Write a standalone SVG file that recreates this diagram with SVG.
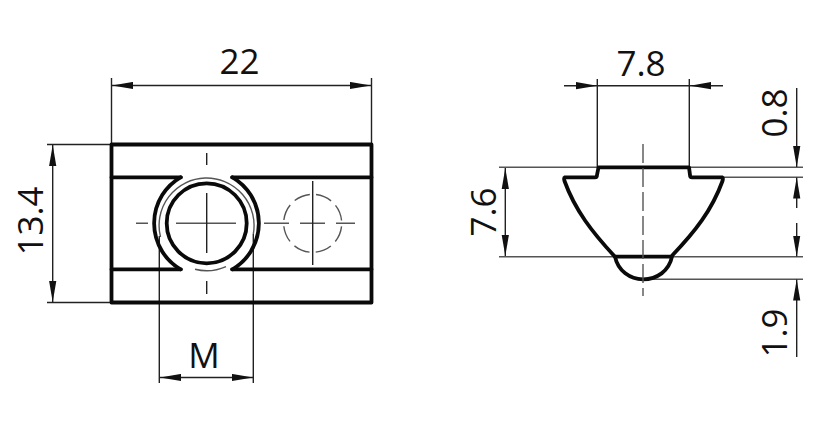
<svg xmlns="http://www.w3.org/2000/svg" width="830" height="434" viewBox="0 0 830 434">
<style>
.t{font-family:"Open Sans","Noto Sans",sans-serif;font-size:35px;fill:#111;text-anchor:middle}
.o{fill:none;stroke:#0a0a0a;stroke-width:3.8;stroke-linejoin:round;stroke-linecap:round}
.d{fill:none;stroke:#222;stroke-width:1.4}
.e{fill:none;stroke:#555;stroke-width:1.6}
.c{fill:none;stroke:#555;stroke-width:1.4}
.k{fill:none;stroke:#222;stroke-width:1.4}
.h{fill:#111}
</style>
<defs>
<marker id="a" markerUnits="userSpaceOnUse" markerWidth="22" markerHeight="8" refX="21" refY="4" orient="auto-start-reverse"><path d="M0 .4L21 4L0 7.6Z" class="h"/></marker>
</defs>
<rect width="830" height="434" fill="#fff"/>
<g id="connectors">
<path class="d" d="M111.5 78V144M371.5 78V144M47 144.5H111M47 302.5H111"/>
<path class="d" d="M112 85.5H371" marker-start="url(#a)" marker-end="url(#a)"/>
<path class="d" d="M52.7 145V302" marker-start="url(#a)" marker-end="url(#a)"/>
<path class="d" d="M159.3 236V383M253.3 234V383"/>
<path class="d" d="M160 377.5H253" marker-start="url(#a)" marker-end="url(#a)"/>
<path class="d" d="M597.3 79V167M689.3 79V167"/>
<path class="d" d="M564 85.7H597" marker-end="url(#a)"/>
<path class="d" d="M723 85.7H690" marker-end="url(#a)"/>
<path class="d" d="M597 85.7H690"/>
<path class="e" d="M499 167.3H803M690 177.3H803M499 256.7H803M643 279.3H803"/>
<path class="d" d="M505.3 168V256" marker-start="url(#a)" marker-end="url(#a)"/>
<path class="d" d="M796.7 88V167" marker-end="url(#a)"/>
<path class="d" d="M796.7 208V177.5" marker-end="url(#a)"/>
<path class="d" d="M796.7 223V256.5" marker-end="url(#a)"/>
<path class="d" d="M796.7 357V279.5" marker-end="url(#a)"/>
</g>
<g id="front-view">
<path class="o" d="M111.5 144.5H371.5V302.5H111.5Z"/>
<path class="o" d="M111.5 177.3H181M232 177.3H371.5M111.5 269.3H181M232 269.3H371.5"/>
<path class="o" d="M180.5 177.3A53.3 53.3 0 0 0 180.5 269.3M232.5 177.3A53.3 53.3 0 0 1 232.5 269.3"/>
<circle class="o" cx="206.7" cy="223.3" r="40"/>
<path class="c" d="M160.5 237A47.5 47.5 0 1 1 253.3 234M226 266.6A47.5 47.5 0 0 1 195 269.3"/>
<path class="c" d="M136 223.3H148M176 223.3H236M264 223.3H289M300 223.3H325M336 223.3H355"/>
<path class="k" d="M206.7 153V165M206.7 193V253M206.7 281V294M312.7 181V265"/>
<circle cx="312.7" cy="223.3" r="29" fill="none" stroke="#555" stroke-width="1.4" stroke-dasharray="16.5 6.28" stroke-dashoffset="-3.14"/>
</g>
<g id="side-view">
<path class="o" d="M598.5 167.3H689L690 175Q690 177.3 692 177.3H722Q723.5 178 722.5 181C712 210 695 232 671 256.7H615C592 232 575 210 564.5 181Q563.5 178 565 177.3H595Q597 177.3 597 175Z"/>
<path class="o" d="M615 256.7C618 271 630 279.3 643 279.3C657 279.3 669 271 672 256.7"/>
<path class="c" stroke-dasharray="19 5" d="M643 144V296"/>
</g>
<g id="labels">
<text class="t" x="239.5" y="74.3">22</text>
<text class="t" x="641" y="76">7.8</text>
<text class="t" x="204" y="367.5">M</text>
<text class="t" transform="translate(43.3 221) rotate(-90)">13.4</text>
<text class="t" transform="translate(496 212) rotate(-90)">7.6</text>
<text class="t" transform="translate(787 113) rotate(-90)">0.8</text>
<text class="t" transform="translate(787 333) rotate(-90)">1.9</text>
</g>
</svg>
